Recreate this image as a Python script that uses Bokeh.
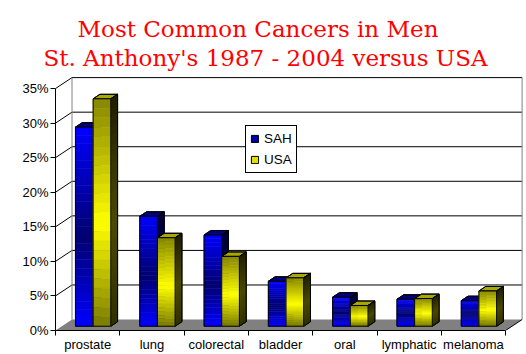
from bokeh.plotting import figure
from bokeh.models import (Range1d, FixedTicker, PrintfTickFormatter, Title, Legend,
                          LegendItem, LinearAxis)
from bokeh.embed import file_html
from bokeh.resources import INLINE

# ---------------- data ----------------
categories = ["prostate", "lung", "colorectal", "bladder", "oral", "lymphatic", "melanoma"]
sah = [28.8, 15.9, 13.2, 6.5, 4.2, 3.9, 3.7]
usa = [32.9, 12.8, 10.1, 7.0, 3.0, 4.0, 5.1]
y_ticks = [0, 5, 10, 15, 20, 25, 30, 35]
series_names = ["SAH", "USA"]
title_lines = ["Most Common Cancers in Men", "St. Anthony's 1987 - 2004 versus USA"]

# ---------------- geometry / style ----------------
N = len(categories)
CAT_PX = 64.3          # pixels per category
PCT_PX = 6.94          # pixels per percent
FRAME_W, FRAME_H = 468, 255
DX = 16.5 / CAT_PX     # depth offset (x, in category units)
DY = 11.0 / PCT_PX     # depth offset (y, in percent units)
F0, F1 = 0.39, 0.80    # bar depth (front/back) as fraction of full depth
BAR_OFF = [0.21, 0.485]
BAR_W = 0.275
NSTRIP = 24
YMAX = y_ticks[-1]


def hex2rgb(h):
    h = h.lstrip("#")
    return tuple(int(h[i:i + 2], 16) for i in (0, 2, 4))


def mix(c1, c2, t):
    a, b = hex2rgb(c1), hex2rgb(c2)
    return "#%02x%02x%02x" % tuple(int(round(a[i] + (b[i] - a[i]) * t)) for i in range(3))


def grad(top, mid, bot, t, tm=0.55):
    if t <= tm:
        return mix(top, mid, t / tm)
    return mix(mid, bot, (t - tm) / (1 - tm))


styles = [
    dict(front=("#0000ff", "#000070", "#0000ff"), side=("#000030", "#000060", "#000040"),
         top="#000080", legend="#0000a0"),
    dict(front=("#858500", "#ffff00", "#7a7a00"), side=("#1e1e00", "#4a4a00", "#303000"),
         top="#a8a800", legend="#e0e000"),
]

p = figure(width=526, height=354,
           x_range=Range1d(0, FRAME_W / CAT_PX), y_range=Range1d(0, FRAME_H / PCT_PX),
           output_backend="svg", toolbar_location=None,
           min_border_left=55, min_border_right=3, min_border_top=76, min_border_bottom=23,
           x_axis_type=None, y_axis_type=None)
p.xgrid.visible = False
p.ygrid.visible = False
p.outline_line_color = None
p.background_fill_color = "white"
p.border_fill_color = "white"

# ---------------- walls & floor ----------------
levels = y_ticks[1:]
p.segment(x0=[0] * len(levels), y0=levels, x1=[DX] * len(levels), y1=[v + DY for v in levels],
          line_color="black", line_width=1)
p.segment(x0=[DX] * len(levels), y0=[v + DY for v in levels],
          x1=[N + DX] * len(levels), y1=[v + DY for v in levels],
          line_color="black", line_width=1)
p.segment(x0=[DX, N + DX], y0=[DY, DY], x1=[DX, N + DX], y1=[YMAX + DY, YMAX + DY],
          line_color="#808080", line_width=1)
p.patch(x=[0, N, N + DX, DX], y=[0, 0, DY, DY], fill_color="#808080", line_color=None)
p.line(x=[N, N + DX], y=[0, DY], line_color="black", line_width=1)

# ---------------- 3D bars ----------------
legend_renderers = []
for s, values in enumerate([sah, usa]):
    st = styles[s]
    xs_faces, ys_faces, face_cols = [], [], []
    sl, sr, sb, stp, scol = [], [], [], [], []
    ol, orr, ob, ot = [], [], [], []
    side_x, side_y, side_c = [], [], []
    for i, v in enumerate(values):
        L = i + BAR_OFF[s]
        R = L + BAR_W
        xs_faces.append([R + F0 * DX, R + F1 * DX, R + F1 * DX, R + F0 * DX])
        ys_faces.append([F0 * DY, F1 * DY, v + F1 * DY, v + F0 * DY])
        face_cols.append(st["side"][1])
        xs_faces.append([L + F0 * DX, R + F0 * DX, R + F1 * DX, L + F1 * DX])
        ys_faces.append([v + F0 * DY, v + F0 * DY, v + F1 * DY, v + F1 * DY])
        face_cols.append(st["top"])
        for k in range(NSTRIP):
            t = (k + 0.5) / NSTRIP
            y_hi = v * (1 - k / NSTRIP)
            y_lo = v * (1 - (k + 1) / NSTRIP)
            sl.append(L + F0 * DX)
            sr.append(R + F0 * DX)
            stp.append(F0 * DY + y_hi)
            sb.append(F0 * DY + y_lo)
            scol.append(grad(*st["front"], t))
            side_x.append([R + F0 * DX, R + F1 * DX, R + F1 * DX, R + F0 * DX])
            side_y.append([y_lo + F0 * DY, y_lo + F1 * DY, y_hi + F1 * DY, y_hi + F0 * DY])
            side_c.append(grad(*st["side"], t))
        ol.append(L + F0 * DX)
        orr.append(R + F0 * DX)
        ob.append(F0 * DY)
        ot.append(v + F0 * DY)
    p.patches(xs=xs_faces, ys=ys_faces, fill_color=face_cols, line_color="black", line_width=1)
    p.patches(xs=side_x, ys=side_y, fill_color=side_c, line_color=side_c, line_width=0.6)
    p.patches(xs=xs_faces, ys=ys_faces, fill_color=None, line_color="black", line_width=1)
    p.quad(left=sl, right=sr, bottom=sb, top=stp, fill_color=scol, line_color=scol, line_width=0.6)
    p.quad(left=ol, right=orr, bottom=ob, top=ot, fill_color=None, line_color="black", line_width=1)
    r = p.quad(left=[0], right=[0], bottom=[0], top=[0], fill_color=st["legend"], line_color="black")
    legend_renderers.append(r)

# ---------------- axes ----------------
yaxis = LinearAxis(ticker=FixedTicker(ticks=y_ticks), formatter=PrintfTickFormatter(format="%d%%"),
                   bounds=(0, YMAX))
yaxis.axis_line_color = "black"
yaxis.major_tick_out = 5
yaxis.major_tick_in = 0
yaxis.minor_tick_line_color = None
yaxis.major_label_text_font = "Liberation Sans"
yaxis.major_label_text_font_size = "13px"
yaxis.major_label_text_color = "black"
yaxis.major_label_standoff = 2
p.add_layout(yaxis, "left")

xaxis = LinearAxis(ticker=FixedTicker(ticks=[i + 0.5 for i in range(N)], minor_ticks=list(range(N + 1))),
                   bounds=(0, N))
xaxis.major_label_overrides = {i + 0.5: c for i, c in enumerate(categories)}
xaxis.axis_line_color = "black"
xaxis.major_tick_out = 0
xaxis.major_tick_in = 0
xaxis.minor_tick_out = 5
xaxis.minor_tick_in = 0
xaxis.minor_tick_line_color = "black"
xaxis.major_label_text_font = "Liberation Sans"
xaxis.major_label_text_font_size = "13px"
xaxis.major_label_text_line_height = 0.7
xaxis.major_label_text_color = "black"
xaxis.major_label_standoff = 1
xaxis.axis_label_standoff = 0
p.add_layout(xaxis, "below")

# ---------------- legend ----------------
legend = Legend(items=[LegendItem(label=n, renderers=[r]) for n, r in zip(series_names, legend_renderers)],
                location=(190, 157), orientation="vertical",
                glyph_width=9, glyph_height=9, label_height=17, label_standoff=5,
                padding=4, spacing=4, margin=0,
                label_text_font="Liberation Sans", label_text_font_size="13.5px",
                label_text_color="black",
                border_line_color="black", border_line_width=1, border_line_alpha=1,
                background_fill_color="white", background_fill_alpha=1)
p.add_layout(legend)

# ---------------- title ----------------
p.title.visible = False
t2 = Title(text=title_lines[1], align="left", offset=-12, standoff=11,
           text_font="DejaVu Serif", text_font_size="23px", text_color="red",
           text_font_style="normal")
t1 = Title(text=title_lines[0], align="left", offset=22, standoff=-9,
           text_font="DejaVu Serif", text_font_size="23px", text_color="red",
           text_font_style="normal")
p.add_layout(t2, "above")
p.add_layout(t1, "above")

open("out.html", "w").write(file_html(p, INLINE))
